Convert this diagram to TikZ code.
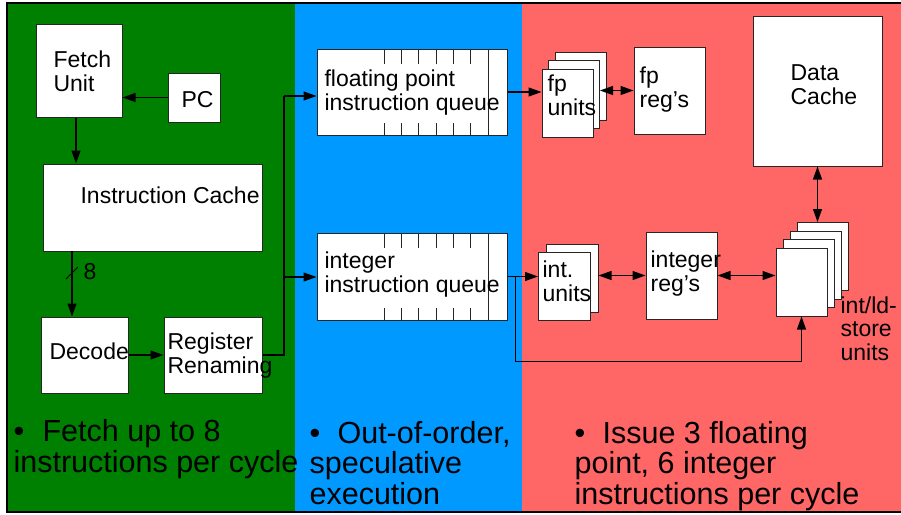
\documentclass[tikz,border=0pt]{standalone}
\usepackage{fontspec}
\setmainfont{Liberation Sans}
\usetikzlibrary{arrows.meta}

\definecolor{fetchgreen}{RGB}{0,128,0}
\definecolor{queueblue}{RGB}{0,153,255}
\definecolor{issuered}{RGB}{255,102,102}

\begin{document}
\begin{tikzpicture}[x=1pt,y=-1pt]
		\tikzstyle{every path}=[line width=1.2pt]
		\tikzstyle{unit}=[draw=black!85,fill=white,line width=1pt,inner sep=0pt]
		\tikzstyle{txt}=[font=\fontsize{23}{23.5}\selectfont,align=left,inner sep=0pt,anchor=base west]
		\tikzstyle{note}=[font=\fontsize{30.5}{30.5}\selectfont,align=left,inner sep=0pt,anchor=base west]
		\tikzstyle{arr}=[-{Triangle[length=13pt,width=9pt]}]
		\tikzstyle{both}=[{Triangle[length=13pt,width=9pt]}-{Triangle[length=13pt,width=9pt]}]
		
		\useasboundingbox (0,0) rectangle (901,514);
		
		%% Three stages
		\fill[fetchgreen] (8,4) rectangle (295,512);
		\fill[queueblue] (295,4) rectangle (522,512);
		\fill[issuered] (522,4) rectangle (901,512);
		\draw[line width=2pt] (901,3) -- (7,3) -- (7,512) -- (901,512);
		
		%% Fetch and decode
		\node [unit,minimum width=86,minimum height=93] (fetch) at (79,70.5) {};
		\node [unit,minimum width=52,minimum height=49] (pc) at (194,97.5) {};
		\node [unit,minimum width=219,minimum height=87] (icache) at (152.5,207.5) {};
		\node [unit,minimum width=87,minimum height=76] (decode) at (84.5,355) {};
		\node [unit,minimum width=98,minimum height=76] (rename) at (213,355) {};
		
		%% (text nodes sit on the baseline of their last line)
		\node [txt] (fetchtxt) at (53,91) {Fetch\\Unit};
		\node [txt] (pctxt) at (181,107) {PC};
		\node [txt] (icachetxt) at (80,203) {Instruction Cache};
		\node [txt] (decodetxt) at (49,359) {Decode};
		\node [txt] (renametxt) at (167,373) {Register\\Renaming};
		
		%% Queues
		\node [unit,minimum width=190,minimum height=86] (fpqueue) at (412,92) {};
		\node [unit,minimum width=190,minimum height=87] (intqueue) at (412,276.5) {};
		\foreach \q in {fpqueue,intqueue} {
			\foreach \k in {0,...,5} {
				\draw[line width=1pt,black!85] (\q.north west) ++(68+17.2*\k,0) -- ++(0,15);
				\draw[line width=1pt,black!85] (\q.south west) ++(68+17.2*\k,0) -- ++(0,-13);
			}
			\draw[line width=1pt,black!85] (\q.north west) ++(172,0) coordinate (\q end) -- (\q end |- \q.south);
		}
		\node [txt] (fpqtxt) at (324,110) {floating point\\instruction queue};
		\node [txt] (intqtxt) at (324,292) {integer\\instruction queue};
		
		%% Issue units
		\node [unit,minimum width=51,minimum height=68] (fpunitsc) at (580.5,86) {};
		\node [unit,minimum width=51,minimum height=68] (fpunitsb) at (574,94.5) {};
		\node [unit,minimum width=51,minimum height=68] (fpunits) at (567.5,103) {};
		\node [unit,minimum width=71,minimum height=87] (fpregs) at (669.5,90.5) {};
		\node [unit,minimum width=129,minimum height=150] (dcache) at (817.5,91) {};
		
		\node [unit,minimum width=52,minimum height=68] (intunitsb) at (572,278) {};
		\node [unit,minimum width=52,minimum height=68] (intunits) at (564.5,286) {};
		\node [unit,minimum width=71,minimum height=87] (intregs) at (681.5,275.5) {};
		
		\node [unit,minimum width=51,minimum height=68] (ldstored) at (822.5,256.5) {};
		\node [unit,minimum width=51,minimum height=68] (ldstorec) at (815.5,265) {};
		\node [unit,minimum width=51,minimum height=68] (ldstoreb) at (808.5,273.5) {};
		\node [unit,minimum width=51,minimum height=68] (ldstore) at (801.5,282) {};
		
		\node [txt] (fputxt) at (547,115) {fp\\units};
		\node [txt] (fpregtxt) at (639,107) {fp\\reg’s};
		\node [txt] (dcachetxt) at (790,104) {Data\\Cache};
		\node [txt] (intutxt) at (542,301) {int.\\units};
		\node [txt] (intregtxt) at (650,291) {integer\\reg’s};
		\node [txt] (ldtxt) at (840,360) {int/ld-\\store\\units};
		
		%% Connections
		\draw[arr] (pc.west) -- (pc.west -| fetch.east);
		\draw[arr] ([xshift=-3pt]fetch.south) -- ([xshift=-3pt]fetch.south |- icache.north);
		\coordinate (ctap) at (72,251);
		\draw[arr] (ctap) -- (ctap |- decode.north);
		\coordinate (wid) at (72,273);
		\draw[line width=1pt] ([shift={(-6,6)}]wid) -- ([shift={(6,-6)}]wid);
		\node [txt] (widtxt) at (83,279) {8};
		\draw[arr] (decode.east) -- (rename.west);
		
		\coordinate (bus) at (284,96);
		\coordinate (split) at (284,277);
		\draw (rename.east) -| (bus);
		\draw[arr] (bus) -- (bus -| fpqueue.west);
		\draw[arr] (split) -- (split -| intqueue.west);
		
		\draw[arr] (fpqueue.east) -- (fpqueue.east -| fpunits.west);
		\draw[both] (fpregs.west -| fpunitsb.east) -- (fpregs.west);
		\draw[both] (dcache.south) -- (dcache.south |- ldstored.north);
		
		\draw[arr] (intqueue.east) -- (intqueue.east -| intunits.west);
		\draw[arr] ([xshift=8pt]intqueue.east) |- ([shift={(0,45)}]ldstore.south) -- (ldstore.south);
		\draw[both] (intregs.west -| intunitsb.east) -- (intregs.west);
		\draw[both] (intregs.east) -- (intregs.east -| ldstore.west);
		
		%% Notes
		\node [note] (fetchnote) at (13,472) {\makebox[29pt][l]{\textbullet}Fetch up to 8\\instructions per cycle};
		\node [note] (queuenote) at (309,504) {\makebox[28pt][l]{\textbullet}Out-of-order,\\speculative\\execution};
		\node [note] (issuenote) at (574,504) {\makebox[28pt][l]{\textbullet}Issue 3 floating\\point, 6 integer\\instructions per cycle};
		
\end{tikzpicture}
\end{document}
